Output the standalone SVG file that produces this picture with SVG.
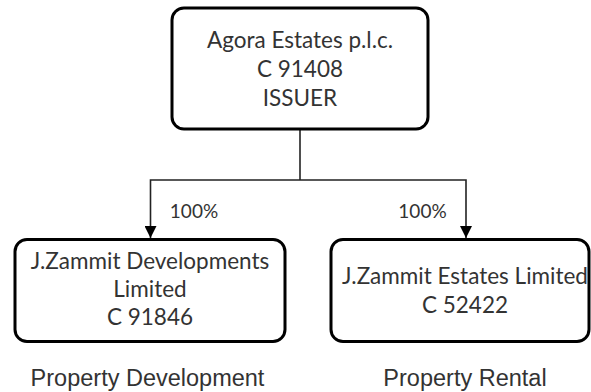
<svg xmlns="http://www.w3.org/2000/svg" width="591" height="392" viewBox="0 0 591 392">
<style>
.box{fill:#fff;stroke:#000;stroke-width:3}
.t{font-family:Lato,"Open Sans",sans-serif;font-size:22.5px;fill:#333;text-anchor:middle}
.lbl{font-family:Lato,"Open Sans",sans-serif;font-size:19px;fill:#333;text-anchor:middle}
.cap{font-family:"Liberation Sans",Arial,sans-serif;font-size:23.5px;fill:#333;text-anchor:middle}
.c{fill:none;stroke:#222;stroke-width:1.6}
</style>
<defs>
<marker id="ah" viewBox="0 0 12 12" refX="12" refY="6" markerWidth="12" markerHeight="12" markerUnits="userSpaceOnUse" orient="auto">
<path d="M0,0 L12,6 L0,12 z" fill="#000"/>
</marker>
</defs>
<rect width="591" height="392" fill="#fff"/>
<g id="connectors">
<path class="c" d="M300,129 V180"/>
<path class="c" d="M300,180 H150.5 V238" marker-end="url(#ah)"/>
<path class="c" d="M300,180 H466 V238" marker-end="url(#ah)"/>
<text class="lbl" x="194" y="218">100%</text>
<text class="lbl" x="422.5" y="218">100%</text>
</g>
<g id="issuer">
<rect class="box" x="172" y="8" width="256" height="121" rx="12"/>
<text class="t" x="300" y="48">Agora Estates p.l.c.</text>
<text class="t" x="300" y="77">C 91408</text>
<text class="t" x="300" y="106">ISSUER</text>
</g>
<g id="developments">
<rect class="box" x="15" y="239.5" width="270" height="102" rx="12"/>
<text class="t" x="150" y="269">J.Zammit Developments</text>
<text class="t" x="150" y="297">Limited</text>
<text class="t" x="150" y="325">C 91846</text>
</g>
<g id="estates">
<rect class="box" x="331" y="239.5" width="258" height="102" rx="12"/>
<text class="t" x="465" y="284">J.Zammit Estates Limited</text>
<text class="t" x="465" y="313">C 52422</text>
</g>
<g id="captions">
<text class="cap" x="147.5" y="386">Property Development</text>
<text class="cap" x="465" y="386">Property Rental</text>
</g>
</svg>
